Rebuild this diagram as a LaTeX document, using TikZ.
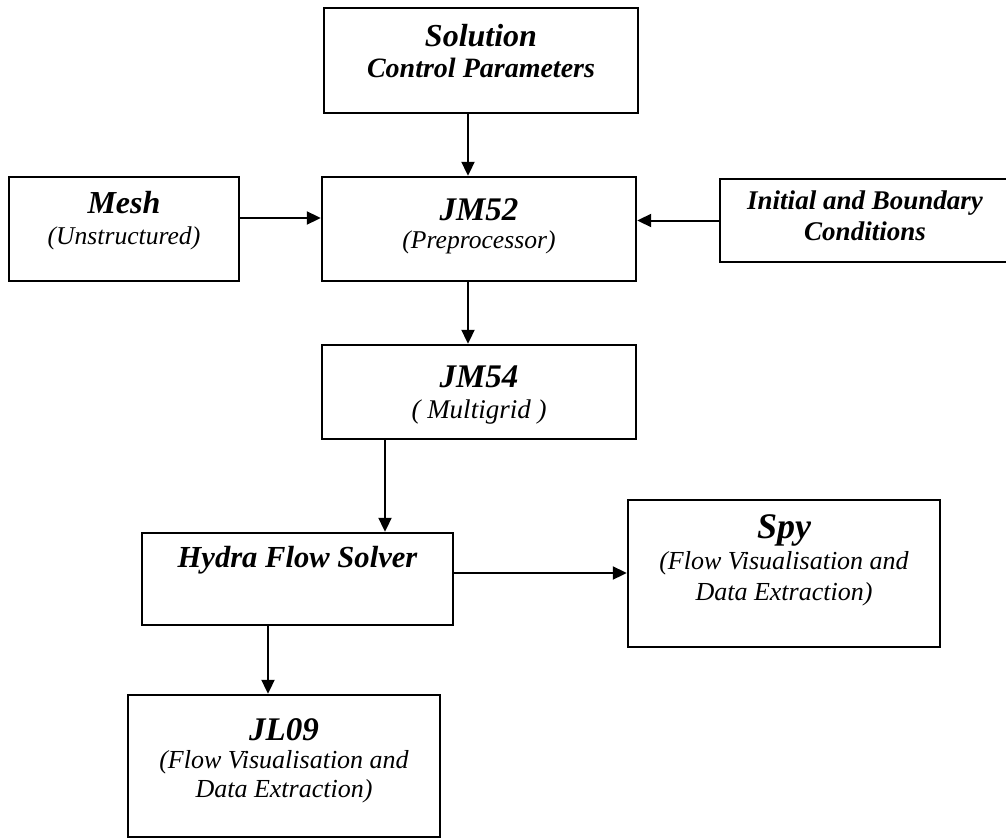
\documentclass[tikz,border=0pt]{standalone}
\usepackage{fontspec}
\setmainfont{Liberation Serif}
\usetikzlibrary{positioning, arrows.meta}

\tikzset{
	box/.style={draw, line width=1.2pt, inner sep=0pt},
	ttl/.style={anchor=base, font=\bfseries\itshape\fontsize{16.5}{18}\selectfont},
	hdr/.style={anchor=base, font=\bfseries\itshape\fontsize{13.5}{15}\selectfont},
	sub/.style={anchor=base, font=\itshape\fontsize{12.8}{14}\selectfont},
	arr/.style={-{Triangle[length=7pt,width=6.5pt]}, line width=1pt}
}

\begin{document}
\begin{tikzpicture}[x=0.5pt, y=-0.5pt]
		\clip (0,0) rectangle (1006,840);
		
		%Boxes
		\node[box, minimum width=157pt, minimum height=52.5pt] (sol) at (481,60.5) {};
		\node[box, minimum width=115pt, minimum height=52pt] (mesh) at (124,229) {};
		\node[box, minimum width=157pt, minimum height=52pt] (jm52) at (479,229) {};
		\node[box, minimum width=155pt, minimum height=41.5pt] (init) at (875,220.5) {};
		\node[box, minimum width=157pt, minimum height=47pt] (jm54) at (479,392) {};
		\node[box, minimum width=155.5pt, minimum height=46pt] (hydra) at (297.5,579) {};
		\node[box, minimum width=156pt, minimum height=73.5pt] (spy) at (784,573.5) {};
		\node[box, minimum width=156pt, minimum height=71pt] (jl09) at (284,766) {};
		
		%Texts
		\node[ttl, font=\bfseries\itshape\fontsize{16}{18}\selectfont] (solt) at (481,47) {Solution};
		\node[hdr, font=\bfseries\itshape\fontsize{14}{15}\selectfont] (sols) at (481,78) {Control Parameters};
		\node[ttl, font=\bfseries\itshape\fontsize{16}{18}\selectfont] (mesht) at (124,213) {Mesh};
		\node[sub] (meshs) at (124,244) {(Unstructured)};
		\node[ttl] (jm52t) at (479,220) {JM52};
		\node[sub] (jm52s) at (479,248) {(Preprocessor)};
		\node[hdr] (initt) at (865,209) {Initial and Boundary};
		\node[hdr] (inits) at (865,240) {Conditions};
		\node[ttl] (jm54t) at (479,387) {JM54};
		\node[sub, font=\itshape\fontsize{13.5}{15}\selectfont] (jm54s) at (479,418) {( Multigrid )};
		\node[hdr, font=\bfseries\itshape\fontsize{15.3}{17}\selectfont] (hydrat) at (297.5,567) {Hydra Flow Solver};
		\node[ttl, font=\bfseries\itshape\fontsize{18}{20}\selectfont] (spyt) at (784,538) {Spy};
		\node[sub, font=\itshape\fontsize{13}{14}\selectfont] (spys) at (784,569) {(Flow Visualisation and};
		\node[sub, font=\itshape\fontsize{13}{14}\selectfont] (spyu) at (784,600) {Data Extraction)};
		\node[ttl] (jl09t) at (284,740) {JL09};
		\node[sub, font=\itshape\fontsize{13}{14}\selectfont] (jl09s) at (284,768) {(Flow Visualisation and};
		\node[sub, font=\itshape\fontsize{13}{14}\selectfont] (jl09u) at (284,797) {Data Extraction)};
		
		%Arrows
		\coordinate (a1) at ([xshift=-6.5pt]sol.south);
		\draw[arr] (a1) -- (a1 |- jm52.north);
		\coordinate (a2) at ([yshift=5.5pt]mesh.east);
		\draw[arr] (a2) -- (a2 -| jm52.west);
		\draw[arr] (init.west) -- (init.west -| jm52.east);
		\coordinate (a3) at ([xshift=-5.5pt]jm52.south);
		\draw[arr] (a3) -- (a3 |- jm54.north);
		\coordinate (a4) at ([xshift=-47pt]jm54.south);
		\draw[arr] (a4) -- (a4 |- hydra.north);
		\coordinate (a5) at ([yshift=3pt]hydra.east);
		\draw[arr] (a5) -- (a5 -| spy.west);
		\coordinate (a6) at ([xshift=-14.75pt]hydra.south);
		\draw[arr] (a6) -- (a6 |- jl09.north);
		
\end{tikzpicture}
\end{document}
